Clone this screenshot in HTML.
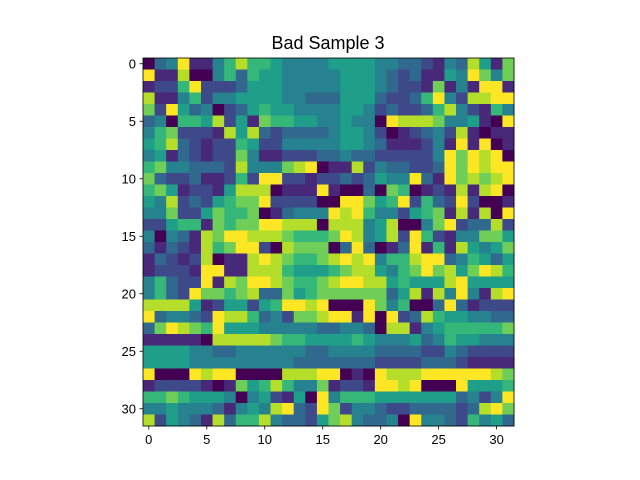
<!DOCTYPE html>
<html><head><meta charset="utf-8"><style>
body{margin:0;background:#fff;}
svg{display:block;font-family:"Liberation Sans","DejaVu Sans",sans-serif;}
</style></head><body>
<svg id="chart" width="640" height="480">
<rect width="640" height="480" fill="#fff"/>
<text x="328" y="49" font-size="18" text-anchor="middle" fill="#000">Bad Sample 3</text>
<g id="cells"></g>
<g id="axes"></g>
</svg>
<script>
const rowsTop = [
"0349114686654444","9118004636554444","1226922235554444","8114624455554433",
"7295340235655444","3406658251766554","4672221858323333","5683212265224444",
"4513212274112223","6744333284447890","7322311262992212","6751221588801119",
"5482325677922220","4472257667013444","2256617677998880","4043187998887666"];
const rowsTopR = [
"5555443321438517","4555432311549747","4555432217141991","3555322369428899",
"4554232236842164","4544098887445109","4554201234281011","4554311124191901",
"3433222224979890","1182433223979899","2323544931978789","1003076012181890",
"0997569263292001","9896442567181809","8884580047923382","7984582962144775"];
const rowsBot = [
"3132186799208777","1321280118987667","1222199118886555","4632291879987667",
"4632977678337567","8888512552569989","9344329886342778","3798769555444443",
"1111108888876655","5555443344444433","5555444444444333","9000989900008889",
"1222210175686447","6676555404521509","4454443145489329","8254318366843325"];
const rowsBotR = [
"0393013916185457","8989466899346535","6788546797857986","8998856555895555",
"7777735818494189","0009746003931222","9919092386554433","3443088145666667",
"5565444534655444","4444333322432222","3333222233321111","9010988899999987",
"1221998900095556","4666555555534249","7244322333323897","7843340944326453"];
const values = [];
for (let r = 0; r < 16; r++) values.push((rowsTop[r] + rowsTopR[r]).split('').map(Number));
for (let r = 0; r < 16; r++) values.push((rowsBot[r] + rowsBotR[r]).split('').map(Number));
const xTicks = [0,5,10,15,20,25,30];
const yTicks = [0,5,10,15,20,25,30];
const palette = ["#440154","#482878","#3e4989","#31688e","#26828e","#1f9e89","#35b779","#6ece58","#b5de2b","#fde725"];

const NS = "http://www.w3.org/2000/svg";
const X0 = 143, X1 = 514, Y0 = 58, Y1 = 426, N = 32;
const cw = (X1 - X0) / N, ch = (Y1 - Y0) / N;
const xs = c => X0 + c * cw;
const ys = r => Y0 + r * ch;
const cells = document.getElementById('cells');
values.forEach((row, r) => row.forEach((v, c) => {
  const el = document.createElementNS(NS, 'rect');
  el.setAttribute('x', xs(c)); el.setAttribute('y', ys(r));
  el.setAttribute('width', cw + 0.5); el.setAttribute('height', ch + 0.5);
  el.setAttribute('fill', palette[v]);
  
  
  cells.appendChild(el);
}));
const axes = document.getElementById('axes');
const frame = document.createElementNS(NS, 'rect');
frame.setAttribute('x', X0); frame.setAttribute('y', Y0);
frame.setAttribute('width', X1 - X0); frame.setAttribute('height', Y1 - Y0);
frame.setAttribute('fill', 'none'); frame.setAttribute('stroke', '#000'); frame.setAttribute('stroke-width', '0.8');


axes.appendChild(frame);
xTicks.forEach(t => {
  const x = xs(t + 0.5);
  const l = document.createElementNS(NS, 'line');
  l.setAttribute('x1', x); l.setAttribute('x2', x); l.setAttribute('y1', Y1); l.setAttribute('y2', Y1 + 3.5);
  l.setAttribute('stroke', '#000'); l.setAttribute('stroke-width', '0.8');
  
  
  axes.appendChild(l);
  const tx = document.createElementNS(NS, 'text');
  tx.setAttribute('x', x); tx.setAttribute('y', Y1 + 18); tx.setAttribute('font-size', '13');
  tx.setAttribute('text-anchor', 'middle'); tx.textContent = t;
  
  
  axes.appendChild(tx);
});
yTicks.forEach(t => {
  const y = ys(t + 0.5);
  const l = document.createElementNS(NS, 'line');
  l.setAttribute('x1', X0 - 3.5); l.setAttribute('x2', X0); l.setAttribute('y1', y); l.setAttribute('y2', y);
  l.setAttribute('stroke', '#000'); l.setAttribute('stroke-width', '0.8');
  
  
  axes.appendChild(l);
  const tx = document.createElementNS(NS, 'text');
  tx.setAttribute('x', X0 - 7); tx.setAttribute('y', y + 4.5); tx.setAttribute('font-size', '13');
  tx.setAttribute('text-anchor', 'end'); tx.textContent = t;
  
  
  axes.appendChild(tx);
});
</script>
</body></html>
